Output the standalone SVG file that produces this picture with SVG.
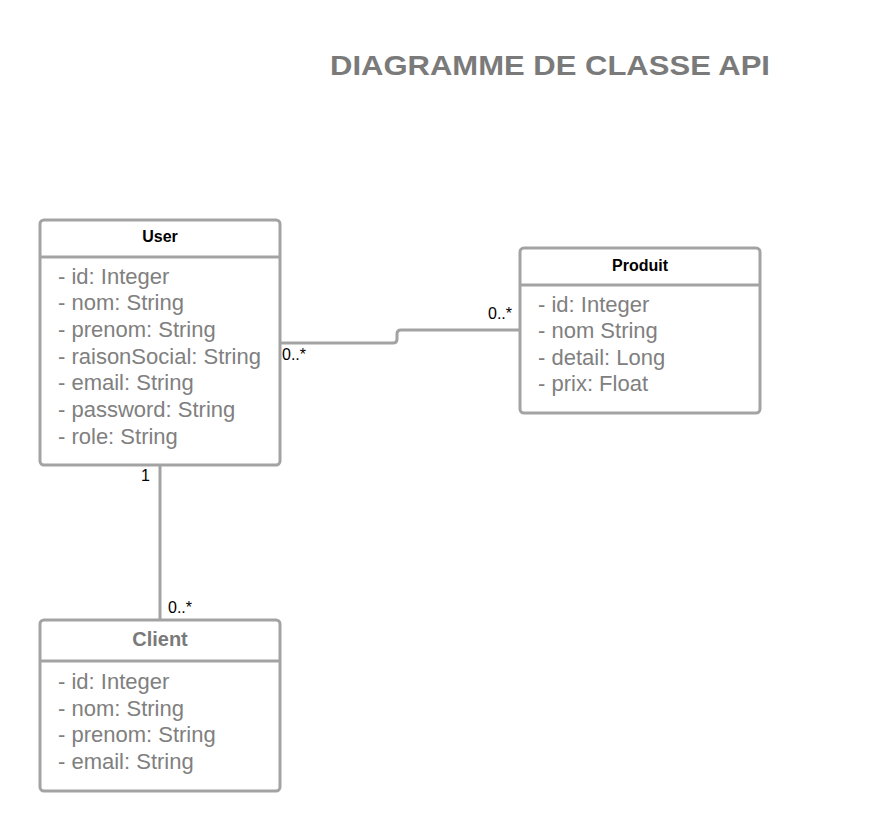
<svg xmlns="http://www.w3.org/2000/svg" width="880" height="831" viewBox="0 0 880 831">
<style>
.box{fill:#fff;stroke:#a3a3a3;stroke-width:3}
.sep{stroke:#a3a3a3;stroke-width:3}
.conn{fill:none;stroke:#a3a3a3;stroke-width:3}
.attr{font-family:"Liberation Sans",Arial,sans-serif;font-size:22px;fill:#808080}
.hdr{font-family:"Liberation Sans",Arial,sans-serif;font-size:16px;font-weight:bold;fill:#000;text-anchor:middle}
.mult{font-family:"Liberation Sans",Arial,sans-serif;font-size:16px;fill:#000}
.title{font-family:"Liberation Sans",Arial,sans-serif;font-size:28px;font-weight:bold;fill:#7a7a7a}
</style>
<rect width="880" height="831" fill="#fff"/>
<text class="title" x="330" y="75" textLength="440" lengthAdjust="spacingAndGlyphs">DIAGRAMME DE CLASSE API</text>
<g id="connectors">
<path class="conn" d="M280,343 H393 Q397,343 397,339 V334 Q397,330 401,330 H520"/>
<path class="conn" d="M160,465 V620"/>
<text class="mult" x="282" y="360">0..*</text>
<text class="mult" x="488" y="319">0..*</text>
<text class="mult" x="141" y="481">1</text>
<text class="mult" x="168" y="613">0..*</text>
</g>
<g id="user">
<rect class="box" x="40" y="220" width="240" height="245" rx="4"/>
<line class="sep" x1="40" y1="257" x2="280" y2="257"/>
<text class="hdr" x="160" y="242">User</text>
<text class="attr" x="58" y="284">- id: Integer</text>
<text class="attr" x="58" y="310">- nom: String</text>
<text class="attr" x="58" y="337">- prenom: String</text>
<text class="attr" x="58" y="364">- raisonSocial: String</text>
<text class="attr" x="58" y="390">- email: String</text>
<text class="attr" x="58" y="417">- password: String</text>
<text class="attr" x="58" y="444">- role: String</text>
</g>
<g id="produit">
<rect class="box" x="520" y="248" width="240" height="165" rx="4"/>
<line class="sep" x1="520" y1="285" x2="760" y2="285"/>
<text class="hdr" x="640" y="271">Produit</text>
<text class="attr" x="538" y="312">- id: Integer</text>
<text class="attr" x="538" y="338">- nom String</text>
<text class="attr" x="538" y="365">- detail: Long</text>
<text class="attr" x="538" y="391">- prix: Float</text>
</g>
<g id="client">
<rect class="box" x="40" y="620" width="240" height="171" rx="4"/>
<line class="sep" x1="40" y1="661" x2="280" y2="661"/>
<text class="hdr" x="160" y="646" style="font-size:20px;fill:#7a7a7a">Client</text>
<text class="attr" x="58" y="689">- id: Integer</text>
<text class="attr" x="58" y="716">- nom: String</text>
<text class="attr" x="58" y="742">- prenom: String</text>
<text class="attr" x="58" y="769">- email: String</text>
</g>
</svg>
